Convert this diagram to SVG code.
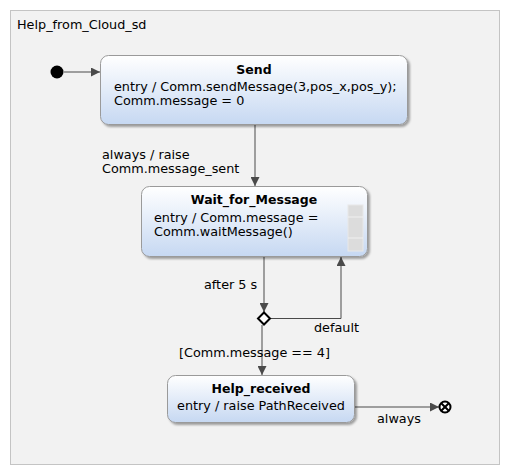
<svg xmlns="http://www.w3.org/2000/svg" width="511" height="476" viewBox="0 0 511 476">
  <defs>
    <linearGradient id="stateFill" x1="0" y1="0" x2="0" y2="1">
      <stop offset="0" stop-color="#ffffff"/>
      <stop offset="1" stop-color="#c6d8f2"/>
    </linearGradient>
    <filter id="shadow" x="-10%" y="-10%" width="120%" height="130%">
      <feDropShadow dx="2" dy="2" stdDeviation="1.2" flood-color="#000" flood-opacity="0.35"/>
    </filter>
    <marker id="arrow" viewBox="0 0 10 10" refX="10" refY="5" markerWidth="9" markerHeight="9" markerUnits="userSpaceOnUse" orient="auto">
      <path d="M0,0 L10,5 L0,10 z" fill="#4a4a4a"/>
    </marker>
  </defs>
  <style>
    text { font-family: "DejaVu Sans", Verdana, sans-serif; font-size: 12.8px; fill: #000; }
    .title { font-weight: bold; text-anchor: middle; font-size: 12.5px; }
    .state { fill: url(#stateFill); stroke: #9a9a9a; stroke-width: 1; filter: url(#shadow); }
    .edge { fill: none; stroke: #4a4a4a; stroke-width: 1; }
  </style>

  <!-- statechart region -->
  <g id="region">
    <rect x="10.5" y="10.5" width="489" height="454" fill="#f2f2f2" stroke="#c4c4c4"/>
    <text x="17" y="29">Help_from_Cloud_sd</text>
  </g>

  <!-- transitions -->
  <g id="connectors">
    <path class="edge" d="M64,72 H100" marker-end="url(#arrow)"/>
    <path class="edge" d="M255,125 V186" marker-end="url(#arrow)"/>
    <path class="edge" d="M264,257 V312" marker-end="url(#arrow)"/>
    <path class="edge" d="M270,318.5 H341 V257" marker-end="url(#arrow)"/>
    <path class="edge" d="M262,325 V375" marker-end="url(#arrow)"/>
    <path class="edge" d="M355,407 H439" marker-end="url(#arrow)"/>
    <text x="102" y="159">always / raise</text>
    <text x="102" y="173">Comm.message_sent</text>
    <text x="204" y="289">after 5 s</text>
    <text x="314" y="332">default</text>
    <text x="179" y="357">[Comm.message == 4]</text>
    <text x="377" y="423">always</text>
  </g>

  <g id="initial">
    <circle cx="57" cy="72" r="6.5" fill="#000"/>
  </g>

  <g id="Send">
    <rect class="state" x="100.5" y="55.5" width="307" height="69" rx="8"/>
    <text class="title" x="254" y="74">Send</text>
    <text x="114" y="91">entry / Comm.sendMessage(3,pos_x,pos_y);</text>
    <text x="114" y="105">Comm.message = 0</text>
  </g>

  <g id="Wait_for_Message">
    <rect class="state" x="141.5" y="186.5" width="226" height="70" rx="8"/>
    <text class="title" x="254" y="204">Wait_for_Message</text>
    <text x="154" y="222">entry / Comm.message =</text>
    <text x="154" y="236">Comm.waitMessage()</text>
    <rect x="348" y="205" width="15" height="46" fill="#dcdcdc" stroke="#e8e8e8"/>
    <line x1="348" y1="217" x2="363" y2="217" stroke="#f0f0f0"/>
    <line x1="348" y1="238" x2="363" y2="238" stroke="#f0f0f0"/>
  </g>

  <g id="choice">
    <path d="M264,312.5 L270,318.5 L264,324.5 L258,318.5 z" fill="#fff" stroke="#000" stroke-width="2"/>
  </g>

  <g id="Help_received">
    <rect class="state" x="167.5" y="375.5" width="187" height="47" rx="8"/>
    <text class="title" x="261" y="393">Help_received</text>
    <text x="261" y="410" text-anchor="middle">entry / raise PathReceived</text>
  </g>

  <g id="final">
    <circle cx="445" cy="407" r="5.5" fill="#fff" stroke="#000" stroke-width="2"/>
    <path d="M441.2,403.2 L448.8,410.8 M448.8,403.2 L441.2,410.8" stroke="#000" stroke-width="2"/>
  </g>
</svg>
